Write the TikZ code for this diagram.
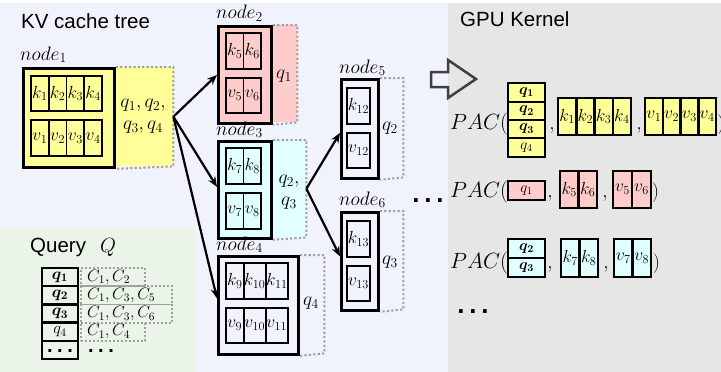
\RequirePackage{fix-cm}
\documentclass[tikz,border=0pt]{standalone}
\usepackage[no-math]{fontspec}
\usepackage{amsmath}
\usepackage{bm}
\usetikzlibrary{arrows.meta,calc}
\newfontfamily\sansf{Liberation Sans}
\definecolor{bgblue}{HTML}{F0F3FC}
\definecolor{bggray}{HTML}{E6E6E6}
\definecolor{bggreen}{HTML}{EAF4E8}
\definecolor{kvyellow}{HTML}{FFFF99}
\definecolor{kvpink}{HTML}{FFCCCC}
\definecolor{kvcyan}{HTML}{E0FFFF}
\definecolor{extgray}{HTML}{A0A0A0}
\newcommand\szTitle{\sansf\fontsize{20.5}{24}\selectfont}
\newcommand\szLbl{\fontsize{19.5}{22}\selectfont}
\newcommand\szCell{\fontsize{17.5}{20}\selectfont}
\newcommand\szSmall{\fontsize{15}{18}\selectfont}
\newcommand\szPac{\fontsize{22}{26}\selectfont}
\newcommand\szQuery{\fontsize{16.5}{19}\selectfont}
\tikzset{
  cell/.style={draw=black, line width=1.8pt, inner sep=0pt, font=\szCell},
  outerbox/.style={draw=black, line width=2.8pt, inner sep=0pt, anchor=north west},
  fillbox/.style={draw=none, inner sep=0pt, anchor=north west},
  ext/.style={draw=extgray, line width=2pt, dash pattern=on 2.2pt off 2.2pt},
  arr/.style={-{Stealth[length=10pt,width=8pt]}, line width=2.2pt},
  lbl/.style={inner sep=0pt, anchor=base west, font=\szLbl},
  qtxt/.style={inner sep=0pt, align=center, font=\szLbl},
  title/.style={inner sep=0pt, anchor=base west, font=\szTitle},
  pac/.style={inner sep=0pt, anchor=base west, font=\szPac},
  commatxt/.style={inner sep=0pt, anchor=base, font=\szLbl},
  qcell/.style={draw=black, line width=2.5pt, minimum width=37pt, inner sep=0pt, font=\szSmall},
  qcol/.style={draw=black, line width=2.5pt, minimum width=36pt, minimum height=18.2pt, inner sep=0pt, font=\szQuery},
  qext/.style={draw=extgray, line width=1.8pt, dash pattern=on 2pt off 2pt, minimum height=18.2pt, inner sep=0pt, anchor=west},
  qtext/.style={inner sep=0pt, anchor=west, font=\szQuery},
  dotstxt/.style={inner sep=0pt, anchor=base, font=\sansf\bfseries\fontsize{26}{28}\selectfont},
  hollow/.style={draw=black!75, line width=2.5pt, line join=miter}
}
% #1 name prefix, #2 x0, #3 yc, #4 width, #5 height, #6 letter, #7 subscripts, #8 extra style
\newcommand\cellrow[8]{%
  \foreach \s [count=\i] in {#7}
    \node[cell, #8, minimum width=#4pt, minimum height=#5pt] (#1\i) at ({#2+#4*(\i-0.5)},#3) {$#6_{\s}$};}
\begin{document}
\begin{tikzpicture}[x=1pt,y=-1pt]
\useasboundingbox (0,0) rectangle (721,372);
% backgrounds
\fill[bgblue] (0,3) rectangle (448,372);
\fill[bggray] (448,3) rectangle (721,372);
\fill[bggreen] (0,228) rectangle (195,372);
% titles
\node[title] (t1) at (21,28) {KV cache tree};
\node[title] (t2) at (460,27) {GPU Kernel};
\node[title] (t3) at (30,252) {Query\hspace{14pt}$Q$};

% ---------- node 1
\node[fillbox, fill=kvyellow, minimum width=151pt, minimum height=99pt] (n1bg) at (22,67) {};
\node[outerbox, minimum width=91pt, minimum height=99pt] (n1) at (22,67) {};
\draw[ext] (n1.north east) -- (n1bg.north east) -- (n1bg.south east) -- (n1.south east);
\node[outerbox, minimum width=91pt, minimum height=99pt] at (22,67) {};
\cellrow{n1k}{31}{93.5}{17.75}{35}{k}{1,2,3,4}{}
\cellrow{n1v}{31}{138}{17.75}{36}{v}{1,2,3,4}{}
\node[lbl] (n1lab) at (20,60) {$node_1$};
\node[qtxt] (n1q) at (143,116) {$q_1, q_2,$\\$q_3, q_4$};

% ---------- node 2
\node[fillbox, fill=kvpink, minimum width=80pt, minimum height=97pt] (n2bg) at (217,25) {};
\node[outerbox, minimum width=53pt, minimum height=97pt] (n2) at (217,25) {};
\draw[ext] (n2.north east) -- (n2bg.north east) -- (n2bg.south east) -- (n2.south east);
\cellrow{n2k}{226}{51}{17.5}{36}{k}{5,6}{}
\cellrow{n2v}{226}{95.5}{17.5}{35}{v}{5,6}{}
\node[lbl] (n2lab) at (216,19) {$node_2$};
\node[qtxt] (n2q) at (284,76) {$q_1$};

% ---------- node 3
\node[fillbox, fill=kvcyan, minimum width=89pt, minimum height=97pt] (n3bg) at (217,140) {};
\node[outerbox, minimum width=53pt, minimum height=97pt] (n3) at (217,140) {};
\draw[ext] (n3.north east) -- (n3bg.north east) -- (n3bg.south east) -- (n3.south east);
\cellrow{n3k}{226}{166}{17.5}{36}{k}{7,8}{}
\cellrow{n3v}{226}{211}{17.5}{36}{v}{7,8}{}
\node[lbl] (n3lab) at (216,135) {$node_3$};
\node[qtxt] (n3q) at (289,192) {$q_2,$\\$q_3$};

% ---------- node 4
\node[fillbox, minimum width=107pt, minimum height=98pt] (n4bg) at (217,255) {};
\node[outerbox, minimum width=80pt, minimum height=98pt] (n4) at (217,255) {};
\draw[ext] (n4.north east) -- (n4bg.north east) -- (n4bg.south east) -- (n4.south east);
\node[cell, minimum width=17.7pt, minimum height=36pt] (n4k1) at (234.85,281) {$k_9$};
\node[cell, minimum width=22pt, minimum height=36pt] (n4k2) at (254.7,281) {$k_{10}$};
\node[cell, minimum width=22.3pt, minimum height=36pt] (n4k3) at (276.85,281) {$k_{11}$};
\node[cell, minimum width=17.7pt, minimum height=35pt] (n4v1) at (234.85,325.5) {$v_9$};
\node[cell, minimum width=22pt, minimum height=35pt] (n4v2) at (254.7,325.5) {$v_{10}$};
\node[cell, minimum width=22.3pt, minimum height=35pt] (n4v3) at (276.85,325.5) {$v_{11}$};
\node[lbl] (n4lab) at (216,250) {$node_4$};
\node[qtxt] (n4q) at (311,303) {$q_4$};

% ---------- node 5
\node[fillbox, minimum width=63pt, minimum height=99pt] (n5bg) at (340,78) {};
\node[outerbox, minimum width=37pt, minimum height=99pt] (n5) at (340,78) {};
\draw[ext] (n5.north east) -- (n5bg.north east) -- (n5bg.south east) -- (n5.south east);
\node[cell, minimum width=23pt, minimum height=36pt] (n5k) at (358.5,106) {$k_{12}$};
\node[cell, minimum width=23pt, minimum height=35pt] (n5v) at (358.5,150.5) {$v_{12}$};
\node[lbl] (n5lab) at (339,73) {$node_5$};
\node[qtxt] (n5q) at (390,128) {$q_2$};

% ---------- node 6
\node[fillbox, minimum width=63pt, minimum height=98pt] (n6bg) at (340,211) {};
\node[outerbox, minimum width=37pt, minimum height=98pt] (n6) at (340,211) {};
\draw[ext] (n6.north east) -- (n6bg.north east) -- (n6bg.south east) -- (n6.south east);
\node[cell, minimum width=23pt, minimum height=36pt] (n6k) at (358.5,239) {$k_{13}$};
\node[cell, minimum width=23pt, minimum height=35pt] (n6v) at (358.5,283.5) {$v_{13}$};
\node[lbl] (n6lab) at (339,205) {$node_6$};
\node[qtxt] (n6q) at (390,262) {$q_3$};

% ---------- arrows
\draw[arr] (n1bg.east) -- (n2.west);
\draw[arr] (n1bg.east) -- ([yshift=3pt]n3.west);
\draw[arr] (n1bg.east) -- ([yshift=7pt]n4.west);
\draw[arr] (n3bg.east) -- ([yshift=-4pt]n5.west);
\draw[arr] (n3bg.east) -- ([yshift=5pt]n6.west);

\node[dotstxt] (dmid) at (428,202) {\smash{.\hspace{4.8pt}.\hspace{4.8pt}.}};

% ---------- hollow arrow
\draw[hollow] (431,72) -- (448,72) -- (448,60) -- (476,79) -- (448,98) -- (448,87) -- (431,87) -- cycle;

% ---------- GPU kernel row 1
\node[pac] (p1) at (450,129) {$PAC($};
\node[qcell, fill=kvyellow, minimum height=19pt] (g1q4) at (526.5,147.5) {$q_4$};
\node[qcell, fill=kvyellow, minimum height=19pt] (g1q1) at (526.5,92.5) {$\bm{q_1}$};
\node[qcell, fill=kvyellow, minimum height=18pt] (g1q2) at (526.5,111) {$\bm{q_2}$};
\node[qcell, fill=kvyellow, minimum height=18pt] (g1q3) at (526.5,129) {$\bm{q_3}$};
\node[commatxt] (g1c1) at (552,129) {$,$};
\cellrow{g1k}{558}{116.5}{18.25}{37}{k}{1,2,3,4}{fill=kvyellow, line width=2.5pt}
\node[commatxt] (g1c2) at (639,129) {$,$};
\cellrow{g1v}{645}{116.5}{17.75}{37}{v}{1,2,3,4}{fill=kvyellow, line width=2.5pt}
\node[pac, font=\szLbl] (g1r) at (717.5,129) {$)$};

% ---------- row 2
\node[pac] (p2) at (450,197) {$PAC($};
\node[qcell, fill=kvpink, minimum height=19pt] (g2q1) at (526.5,190.5) {$q_1$};
\node[commatxt] (g2c1) at (550,197) {$,$};
\cellrow{g2k}{560}{189.5}{18.5}{37}{k}{5,6}{fill=kvpink, line width=2.5pt}
\node[commatxt] (g2c2) at (605,197) {$,$};
\cellrow{g2v}{613}{189.5}{19}{37}{v}{5,6}{fill=kvpink, line width=2.5pt}
\node[pac, font=\szLbl] (g2r) at (652,197) {$)$};

% ---------- row 3
\node[pac] (p3) at (450,268) {$PAC($};
\node[qcell, fill=kvcyan, minimum height=19pt] (g3q2) at (526.5,248.5) {$\bm{q_2}$};
\node[qcell, fill=kvcyan, minimum height=19pt] (g3q3) at (526.5,267.5) {$\bm{q_3}$};
\node[commatxt] (g3c1) at (550,268) {$,$};
\cellrow{g3k}{561}{258}{18.5}{38}{k}{7,8}{fill=kvcyan, line width=2.5pt}
\node[commatxt] (g3c2) at (606,268) {$,$};
\cellrow{g3v}{614}{258}{18.5}{38}{v}{7,8}{fill=kvcyan, line width=2.5pt}
\node[pac, font=\szLbl] (g3r) at (653,268) {$)$};

\node[dotstxt] (gdots) at (473,313) {\smash{.\hspace{4.8pt}.\hspace{4.8pt}.}};

% ---------- query
\node[qext, minimum width=64pt] (e1) at (80,277.1) {};
\node[qext, minimum width=91pt] (e2) at (80,295.3) {};
\node[qext, minimum width=91pt] (e3) at (80,313.5) {};
\node[qext, minimum width=64pt] (e4) at (80,331.7) {};
\node[qtext] (c1) at (87,277.1) {$C_1, C_2$};
\node[qtext] (c2) at (87,295.3) {$C_1, C_3, C_5$};
\node[qtext] (c3) at (87,313.5) {$C_1, C_3, C_6$};
\node[qtext] (c4) at (87,331.7) {$C_1, C_4$};
\node[qcol, line width=1.5pt] (qq4) at (60,331.7) {$q_4$};
\node[qcol] (qq1) at (60,277.1) {$\bm{q_1}$};
\node[qcol] (qq2) at (60,295.3) {$\bm{q_2}$};
\node[qcol] (qq3) at (60,313.5) {$\bm{q_3}$};
\node[qcol] (qq5) at (60,349.9) {};
\node[dotstxt, font=\sansf\bfseries\fontsize{20}{22}\selectfont] (qd1) at (60,352) {\smash{.\hspace{4.5pt}.\hspace{4.5pt}.}};
\node[dotstxt, font=\sansf\bfseries\fontsize{20}{22}\selectfont] (qd2) at (101,352) {\smash{.\hspace{4.5pt}.\hspace{4.5pt}.}};
\end{tikzpicture}
\end{document}
